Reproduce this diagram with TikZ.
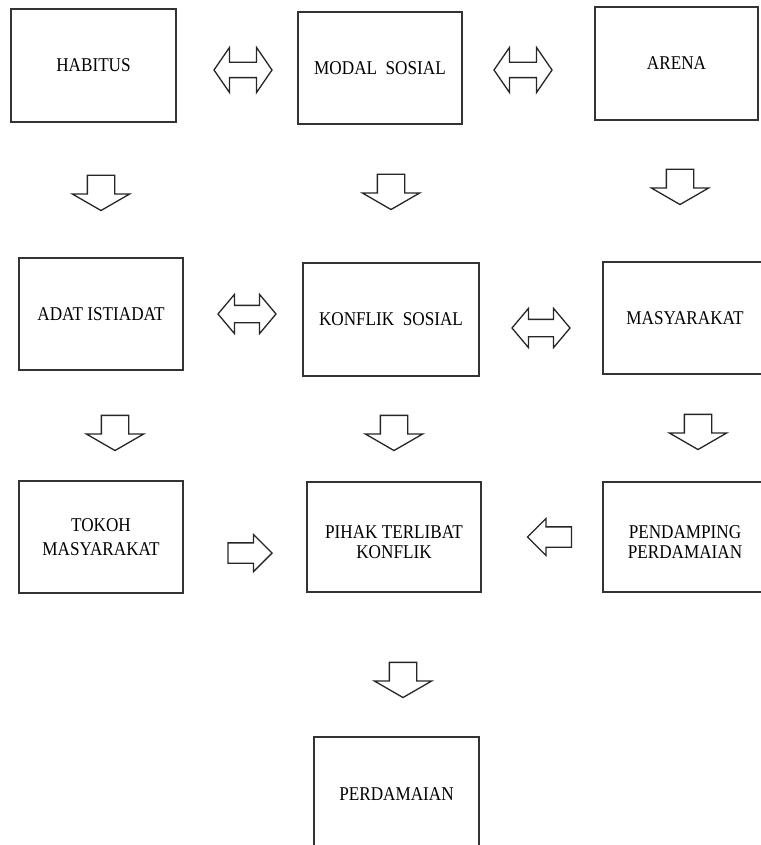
\documentclass[tikz,border=0pt]{standalone}
\usepackage{fontspec}
\setmainfont[FakeStretch=0.88]{Liberation Serif}
\usepackage{tikz}
\usetikzlibrary{shapes.arrows}

\begin{document}
\begin{tikzpicture}[x=1pt,y=-1pt]
			\tikzstyle{box}=[rectangle,draw=black!80,line width=1.6pt,minimum width=164pt,minimum height=112pt,align=center,font=\fontsize{19.5}{20}\selectfont]
			\tikzstyle{darrow}=[double arrow,draw=black!85,line width=1.3pt,inner sep=7.5pt,minimum height=58pt,double arrow head extend=13pt,double arrow tip angle=105]
			\tikzstyle{downarrow}=[single arrow,shape border rotate=270,draw=black!85,line width=1.3pt,inner sep=13pt,minimum height=28pt,single arrow head extend=15pt,single arrow tip angle=120]
			\tikzstyle{sidearrow}=[single arrow,draw=black!85,line width=1.3pt,inner sep=9.5pt,minimum height=44pt,single arrow head extend=8.5pt,single arrow tip angle=90]
			
			\useasboundingbox (0,0) rectangle (760,845);
			
			% first row
			\node [box,minimum width=165pt,minimum height=113pt] (habitus) at (93.5,65.5) {HABITUS};
			\node [box] (modal) at (380,68) {MODAL\ \ SOSIAL};
			\node [box,minimum width=163pt,minimum height=113pt] (arena) at (676.5,63.5) {ARENA};
			\node [darrow,inner sep=7pt,double arrow head extend=15pt,double arrow tip angle=111] (hm) at (243,70) {};
			\node [darrow,inner sep=7pt,double arrow head extend=15pt,double arrow tip angle=111] (ma) at (523,70) {};
			\node [downarrow] (d1) at (101,189) {};
			\node [downarrow] (d2) at (391,188) {};
			\node [downarrow] (d3) at (680,183) {};
			
			% second row
			\node [box] (adat) at (101,314) {ADAT ISTIADAT};
			\node [box,minimum width=176pt,minimum height=113pt] (konflik) at (391,319.5) {KONFLIK\ \ SOSIAL};
			\node [box] (masy) at (685,318) {MASYARAKAT};
			\node [darrow,inner sep=8pt,double arrow head extend=11pt,double arrow tip angle=100] (ak) at (247,314) {};
			\node [darrow,inner sep=8pt,double arrow head extend=11pt,double arrow tip angle=100] (km) at (541,328) {};
			\node [downarrow] (d4) at (115,429) {};
			\node [downarrow] (d5) at (394,429) {};
			\node [downarrow] (d6) at (698,428) {};
			
			% third row
			\node [box] (tokoh) at (101,537) {TOKOH\\[4pt]MASYARAKAT};
			\node [box,minimum width=174pt,minimum height=110pt,text height=44pt] (pihak) at (394,537) {PIHAK TERLIBAT\\KONFLIK};
			\node [box,minimum height=110pt,text height=44pt] (pendamping) at (685,537) {PENDAMPING\\PERDAMAIAN};
			\node [sidearrow] (tp) at (245,553) {};
			\node [sidearrow,shape border rotate=180] (pp) at (554.5,537) {};
			\node [downarrow] (d7) at (403,676) {};
			
			% last box
			\node [box,minimum width=165pt,minimum height=114pt] (damai) at (396.5,794) {PERDAMAIAN};
\end{tikzpicture}
\end{document}
